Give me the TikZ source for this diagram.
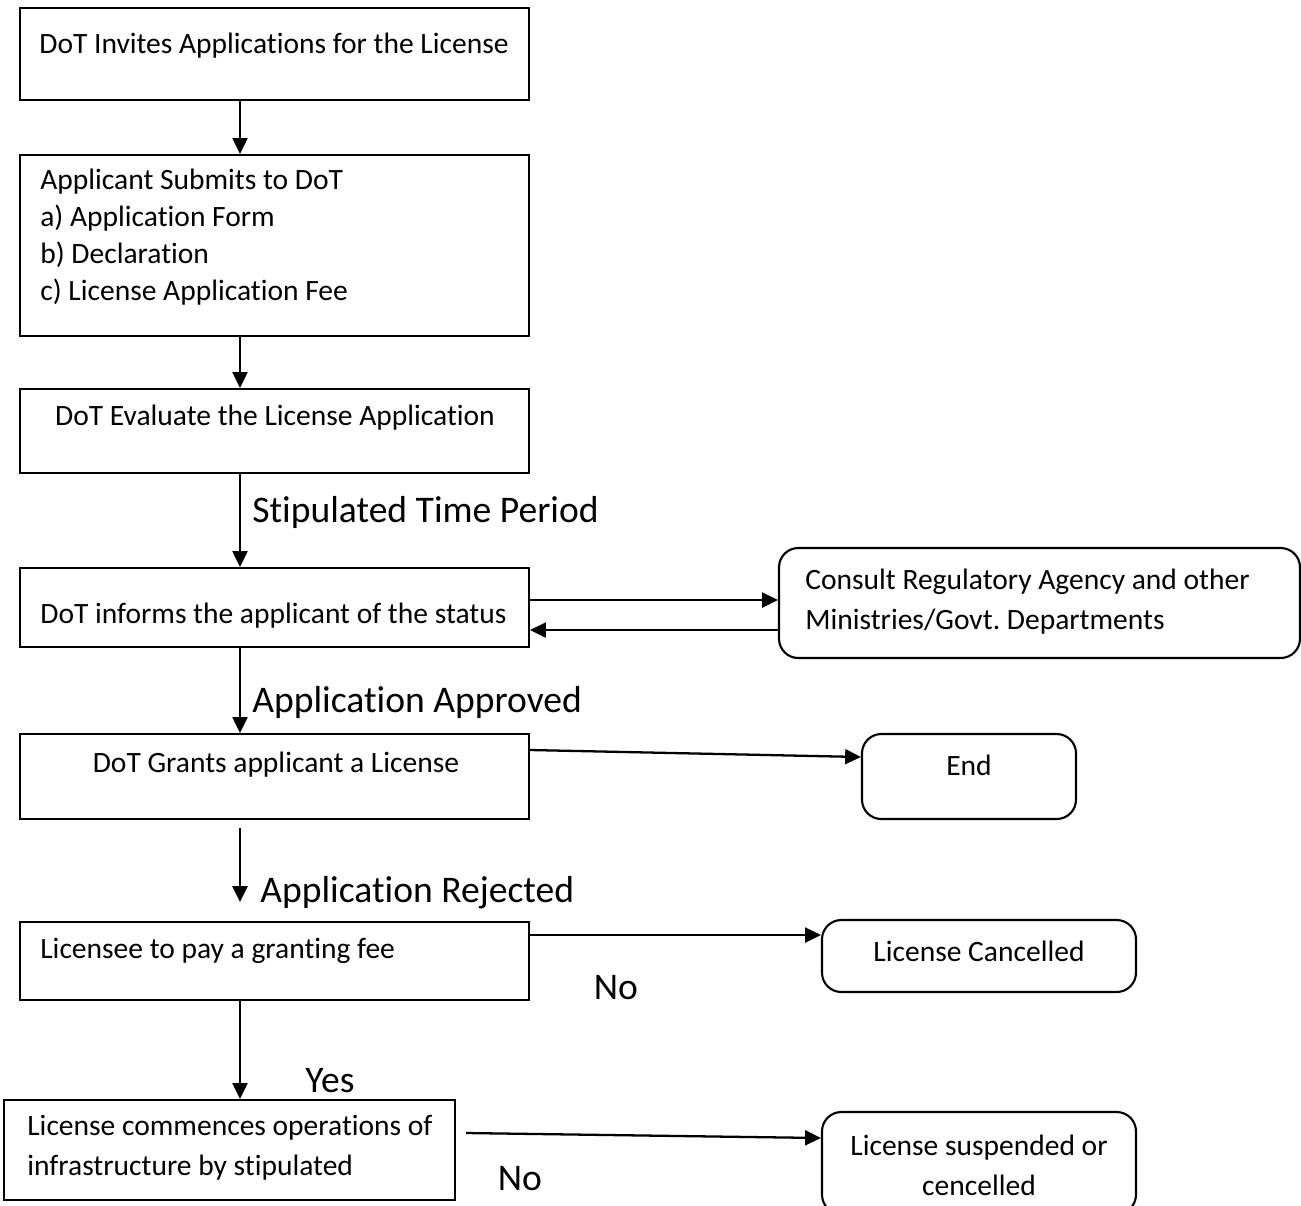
\documentclass[tikz,border=0pt]{standalone}
\usepackage{fontspec}
\setmainfont{Carlito}[Ligatures=NoCommon]
\usetikzlibrary{arrows.meta,fit}
\begin{document}
\frenchspacing
\begin{tikzpicture}[x=0.02cm,y=-0.02cm,
 box/.style={draw, line width=1.2pt, inner sep=0pt},
 rbox/.style={box, rounded corners=11pt},
 txt/.style={inner sep=0pt, font=\fontsize{16.8}{21}\selectfont, align=left},
 txtb/.style={inner sep=0pt, font=\fontsize{16.8}{22.7}\selectfont},
 lbl/.style={inner sep=0pt, font=\fontsize{21.4}{25}\selectfont},
 arr/.style={line width=1.3pt, -{Triangle[length=9pt,width=8.5pt]}}]
\useasboundingbox (0,0) rectangle (1301,1205);
\clip (0,0) rectangle (1301,1205);
% boxes
\node[box, fit={(20,8)(529,100)}] (a) {};
\node[txt, anchor=base] (ta) at (274,53) {DoT Invites Applications for the License};
\node[box, fit={(20,155)(529,336)}] (b) {};
\node[txt, anchor=north west] (tb) at (40,169) {Applicant Submits to DoT\\a) Application Form\\b) Declaration\\c) License Application Fee};
\node[box, fit={(20,389)(529,473)}] (c) {};
\node[txt, anchor=base] (tc) at (275,425) {DoT Evaluate the License Application};
\node[box, fit={(20,568)(529,647)}] (d) {};
\node[txt, anchor=base west] (td) at (40,623) {DoT informs the applicant of the status};
\node[rbox, fit={(779,548)(1300,658)}] (e) {};
\node[txtb, align=left, anchor=north west] (te) at (805,569) {Consult Regulatory Agency and other\\Ministries/Govt.\ Departments};
\node[box, fit={(20,734)(529,819)}] (f) {};
\node[txt, anchor=base] (tf) at (276,772) {DoT Grants applicant a License};
\node[rbox, fit={(862,734)(1076,819)}] (end) {};
\node[txt, anchor=base] (tend) at (969,775) {End};
\node[box, fit={(20,922)(529,1000)}] (g) {};
\node[txt, anchor=base west] (tg) at (40,958) {Licensee to pay a granting fee};
\node[rbox, fit={(822,920)(1136,992)}] (k) {};
\node[txt, anchor=base] (tk) at (979,961) {License Cancelled};
\node[box, fit={(4,1100)(455,1200)}] (h) {};
\node[txtb, align=left, anchor=north west] (th) at (27,1115) {License commences operations of\\infrastructure by stipulated};
\node[rbox, fit={(822,1112)(1136,1214)}] (s) {};
\node[txtb, align=center, anchor=north] (ts) at (979,1135) {License suspended or\\cencelled};
% labels
\node[lbl, anchor=base west] (l1) at (252,522) {Stipulated Time Period};
\node[lbl, anchor=base west] (l2) at (252,712) {Application Approved};
\node[lbl, anchor=base west] (l3) at (260,902) {Application Rejected};
\node[lbl, anchor=base] (l4) at (616,999) {No};
\node[lbl, anchor=base] (l5) at (330,1092) {Yes};
\node[lbl, anchor=base] (l6) at (520,1190) {No};
% helper coordinates
\coordinate (xl) at (240,0);
\coordinate (y1) at (0,600);
\coordinate (y2) at (0,630);
\coordinate (y3) at (0,935);
\coordinate (fo) at (0,750);
\coordinate (ei) at (0,757);
\coordinate (r1) at (240,828);
\coordinate (r2) at (240,902);
\coordinate (h1) at (466,1133);
\coordinate (si) at (0,1138);
% connectors
\draw[arr] (a.south -| xl) -- (b.north -| xl);
\draw[arr] (b.south -| xl) -- (c.north -| xl);
\draw[arr] (c.south -| xl) -- (d.north -| xl);
\draw[arr] (d.east |- y1) -- (e.west |- y1);
\draw[arr] (e.west |- y2) -- (d.east |- y2);
\draw[arr] (d.south -| xl) -- (f.north -| xl);
\draw[arr] (f.east |- fo) -- (end.west |- ei);
\draw[arr] (r1) -- (r2);
\draw[arr] (g.east |- y3) -- (k.west |- y3);
\draw[arr] (g.south -| xl) -- (h.north -| xl);
\draw[arr] (h1) -- (s.west |- si);
\end{tikzpicture}
\end{document}
